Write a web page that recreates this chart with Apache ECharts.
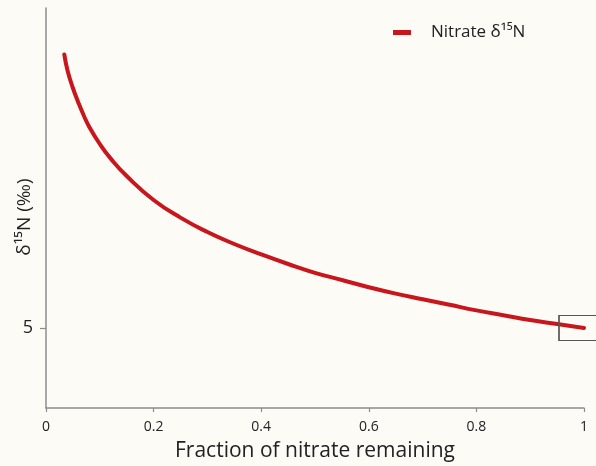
<!DOCTYPE html>
<html>
<head>
<meta charset="utf-8">
<script src="https://cdn.jsdelivr.net/npm/echarts@6/dist/echarts.min.js"></script>
<style>
  html, body { margin: 0; padding: 0; background: #fdfbf6; }
  #chart { width: 596px; height: 466px; }
</style>
</head>
<body>
<div id="chart"></div>
<script>
// Fraction of nitrate remaining (f) and nitrate δ15N (‰)
const fractionRemaining = [0.034, 0.04, 0.05, 0.06, 0.07, 0.08, 0.1, 0.12, 0.15, 0.2, 0.25, 0.3, 0.35, 0.4, 0.45, 0.5, 0.55, 0.6, 0.65, 0.7, 0.75, 0.8, 0.85, 0.9, 0.95, 1.0];
const nitrateDelta = [22.1, 21.1, 20.0, 19.1, 18.3, 17.6, 16.5, 15.6, 14.5, 13.0, 11.9, 11.0, 10.25, 9.6, 9.0, 8.45, 8.0, 7.55, 7.15, 6.8, 6.45, 6.1, 5.8, 5.5, 5.25, 5.0];
const xTickValues = [0, 0.2, 0.4, 0.6, 0.8, 1];
const yTickValues = [5];
const startPoint = [1, 5];

const seriesData = fractionRemaining.map((f, i) => [f, nitrateDelta[i]]);
const font = '"Open Sans", "Noto Sans", sans-serif';
const textColor = '#222';
const axisGrey = '#8c8c8c';

const chart = echarts.init(document.getElementById('chart'), null, { renderer: 'canvas' });
chart.setOption({
  backgroundColor: '#fdfbf6',
  animation: false,
  grid: { left: 46, right: 12, top: 8, bottom: 58, containLabel: false, outerBoundsMode: 'none' },
  legend: {
    data: ['Nitrate δ¹⁵N'],
    left: 388,
    top: 19,
    icon: 'rect',
    itemWidth: 18,
    itemHeight: 5,
    textStyle: { fontFamily: font, fontSize: 17, color: textColor, padding: [0, 0, 0, 15] }
  },
  xAxis: {
    type: 'value',
    min: 0,
    max: 1,
    interval: 0.2,
    axisLine: { lineStyle: { color: axisGrey, width: 1.5 } },
    axisTick: { show: true, length: 4, lineStyle: { color: axisGrey, width: 1.2 } },
    splitLine: { show: false },
    axisLabel: {
      fontFamily: font, fontSize: 14, color: textColor, margin: 12,
      customValues: xTickValues,
      formatter: v => String(+v.toFixed(1))
    },
    name: 'Fraction of nitrate remaining',
    nameLocation: 'middle',
    nameGap: 33,
    nameMoveOverlap: false,
    nameTextStyle: { fontFamily: font, fontSize: 21, color: textColor }
  },
  yAxis: {
    type: 'value',
    min: 0,
    max: 25,
    interval: 5,
    axisLine: { show: true, lineStyle: { color: axisGrey, width: 1.5 } },
    axisTick: { show: true, length: 6, customValues: yTickValues, lineStyle: { color: axisGrey, width: 1.2 } },
    splitLine: { show: false },
    axisLabel: {
      fontFamily: font, fontSize: 18, color: textColor, margin: 13,
      customValues: yTickValues
    },
    name: 'δ¹⁵N (‰)',
    nameLocation: 'middle',
    nameGap: 12,
    nameRotate: 90,
    nameMoveOverlap: false,
    nameTextStyle: { fontFamily: font, fontSize: 19, color: textColor, padding: [0, 18, 0, 0] }
  },
  series: [{
    name: 'Nitrate δ¹⁵N',
    type: 'line',
    data: seriesData,
    smooth: true,
    showSymbol: false,
    itemStyle: { color: '#c8161d' },
    lineStyle: { color: '#c8161d', width: 4, cap: 'round' },
    markPoint: {
      silent: true,
      symbol: 'rect',
      symbolSize: [50, 25],
      itemStyle: { color: 'rgba(0,0,0,0)', borderColor: '#555', borderWidth: 1.2 },
      label: { show: false },
      data: [{ coord: startPoint }]
    }
  }]
});
</script>
</body>
</html>
